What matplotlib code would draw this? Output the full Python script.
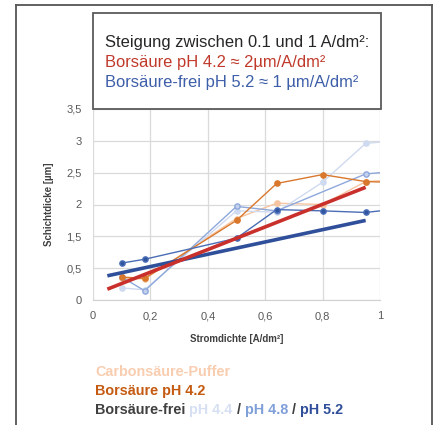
import matplotlib
matplotlib.use("Agg")
import matplotlib.pyplot as plt
from matplotlib.patches import Rectangle
from matplotlib.lines import Line2D

# Messwerte (Schichtdicke in µm über Stromdichte in A/dm²)
carbon_x = [0.1, 0.18, 0.5, 0.64, 0.8, 0.95, 1.1]
carbon_y = [0.34, 0.33, 1.28, 1.52, 1.50, 1.86, 1.90]
bor42_x = [0.1, 0.18, 0.5, 0.64, 0.8, 0.95, 1.1]
bor42_y = [0.36, 0.34, 1.25, 1.83, 1.97, 1.86, 1.84]
ph44_x = [0.1, 0.18, 0.5, 0.64, 0.8, 0.95, 1.1]
ph44_y = [0.19, 0.16, 1.40, 1.38, 1.85, 2.46, 2.52]
ph48_x = [0.1, 0.18, 0.5, 0.64, 0.95, 1.1]
ph48_y = [0.36, 0.145, 1.47, 1.40, 1.98, 2.04]
ph52_x = [0.1, 0.18, 0.5, 0.64, 0.8, 0.95, 1.1]
ph52_y = [0.58, 0.64, 0.97, 1.42, 1.40, 1.375, 1.45]

# Trendlinien
trend_x = [0.05, 0.95]
trend_bor42 = [0.17, 1.77]
trend_ph52 = [0.38, 1.25]

x_ticks = [0, 0.2, 0.4, 0.6, 0.8, 1]
x_labels = ["0", "0,2", "0,4", "0,6", "0,8", "1"]
y_ticks = [0, 0.5, 1, 1.5, 2, 2.5, 3]
y_labels = ["0", "0,5", "1,5", "2", "2,5", "3", "3,5"]

W, H = 433, 425
plt.rcParams["font.family"] = ["Liberation Sans", "DejaVu Sans"]
fig = plt.figure(figsize=(W / 100, H / 100), dpi=100)

def fx(px):
    return px / W

def fy(py):
    return 1 - py / H

ax = fig.add_axes([fx(93), fy(300), fx(380) - fx(93), fy(109) - fy(300)])
ax.set_xlim(0, 1)
ax.set_ylim(0, 3)

ms = 3.8
ax.plot(carbon_x, carbon_y, color="#f6c4a0", lw=1, marker="o", ms=ms, clip_on=True)
ax.plot(ph44_x, ph44_y, color="#cfdaf0", lw=1, marker="o", ms=ms, clip_on=True)
ax.plot(ph48_x, ph48_y, color="#8ea8dc", lw=1, marker="o", ms=ms, mfc="#c3d1ee", clip_on=True)
ax.plot(bor42_x, bor42_y, color="#d9782d", lw=1, marker="o", ms=ms, clip_on=True)
ax.plot(ph52_x, ph52_y, color="#4a6db5", lw=1, marker="o", ms=ms, mfc="#2f55a0", clip_on=True)
ax.plot(trend_x, trend_ph52, color="#2f4f9a", lw=2.6, solid_capstyle="butt")
ax.plot(trend_x, trend_bor42, color="#c9302c", lw=2.6, solid_capstyle="butt")

ax.set_xticks(x_ticks)
ax.set_xticklabels(x_labels)
ax.set_yticks(y_ticks)
ax.set_yticklabels(y_labels)
ax.tick_params(length=0, labelsize=8, labelcolor="#595959", pad=8)
ax.grid(True, color="#dadada", lw=0.9)
ax.set_axisbelow(True)
for side in ["left", "right", "top"]:
    ax.spines[side].set_visible(False)
ax.spines["bottom"].set_color("#d0d0d0")
ax.set_xlabel("Stromdichte [A/dm²]", fontsize=7, color="#404040", fontweight="bold", labelpad=9)
ax.set_ylabel("Schichtdicke [µm]", fontsize=7, color="#404040", fontweight="bold", labelpad=9)

# Rahmen der Folie
frame = dict(color="#555555", lw=1.3, transform=fig.transFigure)
fig.add_artist(Line2D([fx(16), fx(432)], [fy(4.5), fy(4.5)], **frame))
fig.add_artist(Line2D([fx(16), fx(16)], [fy(4.5), 0], **frame))
fig.add_artist(Line2D([fx(432), fx(432)], [fy(4.5), 0], **frame))

# Textkasten
fig.add_artist(Rectangle((fx(93), fy(109)), fx(381) - fx(93), fy(13) - fy(109),
                         transform=fig.transFigure, facecolor="white",
                         edgecolor="#5a5a5a", lw=1.3, zorder=5))
fig.text(fx(105), fy(43), "Steigung zwischen 0.1 und 1 A/dm²:", fontsize=11.9,
         color="#262626", va="center", zorder=6)
fig.text(fx(105), fy(63), "Borsäure pH 4.2 ≈ 2µm/A/dm²", fontsize=11.9,
         color="#c0392b", va="center", zorder=6)
fig.text(fx(105), fy(83), "Borsäure-frei pH 5.2 ≈ 1 µm/A/dm²", fontsize=11.9,
         color="#3d5ea8", va="center", zorder=6)

# Legende unten
fig.text(fx(95), fy(372), "Carbonsäure-Puffer", fontsize=10.4, fontweight="bold",
         color="#f8cdb0", va="center")
fig.text(fx(95), fy(391), "Borsäure pH 4.2", fontsize=10.4, fontweight="bold",
         color="#c55a11", va="center")

parts = [("Borsäure-frei ", "#404040"), ("pH 4.4 ", "#d6e0f2"), ("/ ", "#404040"),
         ("pH 4.8 ", "#7f9fd8"), ("/ ", "#404040"), ("pH 5.2", "#2f4f9a")]
fig.canvas.draw()
renderer = fig.canvas.get_renderer()
x = fx(95)
for txt, col in parts:
    t = fig.text(x, fy(410), txt, fontsize=10.4, fontweight="bold", color=col, va="center")
    bb = t.get_window_extent(renderer)
    x += bb.width / W

fig.savefig("out.png", dpi=100)
